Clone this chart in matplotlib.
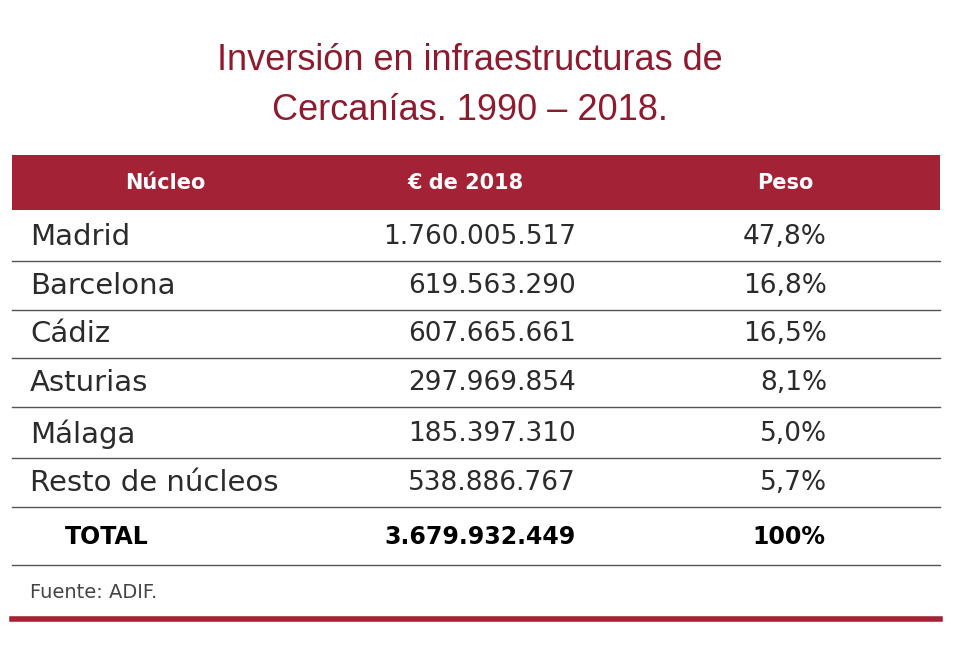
import matplotlib.pyplot as plt

title_lines = ["Inversión en infraestructuras de", "Cercanías. 1990 – 2018."]
headers = ["Núcleo", "€ de 2018", "Peso"]
nucleos = ["Madrid", "Barcelona", "Cádiz", "Asturias", "Málaga", "Resto de núcleos"]
euros = ["1.760.005.517", "619.563.290", "607.665.661", "297.969.854", "185.397.310", "538.886.767"]
pesos = ["47,8%", "16,8%", "16,5%", "8,1%", "5,0%", "5,7%"]
total = ["TOTAL", "3.679.932.449", "100%"]
fuente = "Fuente: ADIF."

red = "#a32235"
txt = "#2b2b2b"

fig = plt.figure(figsize=(9.6, 6.68), dpi=100)
ax = fig.add_axes([0, 0, 1, 1])
ax.set_xlim(0, 960)
ax.set_ylim(668, 0)
ax.axis("off")

for y, line in zip([60, 110], title_lines):
    ax.text(470, y, line, ha="center", va="center", fontsize=26, color="#8e1a2e",
            family="Liberation Sans")

ax.add_patch(plt.Rectangle((12, 155), 928, 55, color=red, lw=0))
for x, h in zip([165, 465, 785], headers):
    ax.text(x, 183, h, ha="center", va="center", fontsize=15, color="white", fontweight="bold")

row_y = [237, 286, 334, 383, 434, 483]
for y, n, e, p in zip(row_y, nucleos, euros, pesos):
    ax.text(30, y, n, ha="left", va="center", fontsize=21, color=txt)
    ax.text(576, y, e, ha="right", va="center", fontsize=19, color=txt)
    ax.text(827, y, p, ha="right", va="center", fontsize=19, color=txt)
    ax.plot([12, 940], [y + 24, y + 24], color="#555555", lw=1)

ax.text(65, 537, total[0], ha="left", va="center", fontsize=17, color="black", fontweight="bold")
ax.text(576, 537, total[1], ha="right", va="center", fontsize=17, color="black", fontweight="bold")
ax.text(825, 537, total[2], ha="right", va="center", fontsize=17, color="black", fontweight="bold")
ax.plot([12, 940], [565, 565], color="#555555", lw=1)

ax.text(30, 593, fuente, ha="left", va="center", fontsize=14, color="#444444")
ax.plot([12, 940], [619, 619], color=red, lw=4)

fig.savefig("out.png", dpi=100, facecolor="white")
